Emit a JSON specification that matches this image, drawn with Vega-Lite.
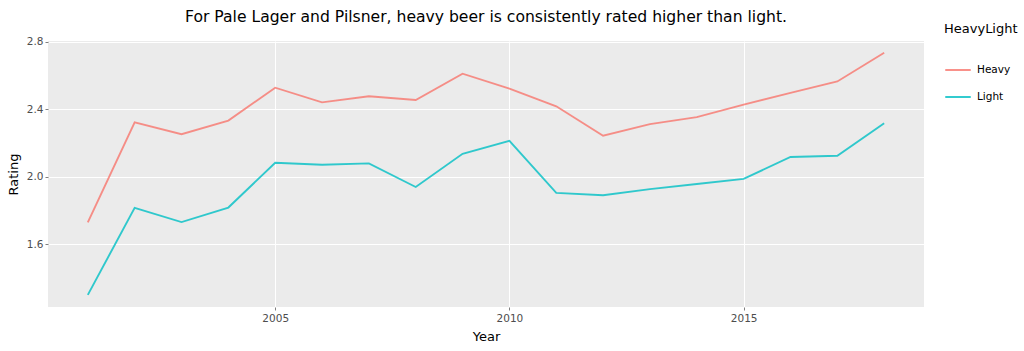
{
  "$schema": "https://vega.github.io/schema/vega-lite/v6.json",
  "width": 876,
  "height": 266,
  "autosize": {"type": "none"},
  "padding": {"left": 48, "top": 41, "right": 100, "bottom": 44},
  "background": "white",
  "title": {
    "text": "For Pale Lager and Pilsner, heavy beer is consistently rated higher than light.",
    "font": "DejaVu Sans",
    "fontSize": 15.6,
    "fontWeight": "normal",
    "color": "#000000",
    "anchor": "middle",
    "frame": "group",
    "offset": -3
  },
  "config": {
    "view": {"fill": "#EBEBEB", "stroke": null},
    "font": "DejaVu Sans",
    "axis": {
      "domain": false,
      "gridColor": "#FFFFFF",
      "gridWidth": 1,
      "tickColor": "#7F7F7F",
      "tickSize": 3,
      "labelColor": "#4D4D4D",
      "labelFont": "DejaVu Sans",
      "labelFontSize": 10.5,
      "titleFont": "DejaVu Sans",
      "titleFontSize": 13,
      "titleFontWeight": "normal",
      "titleColor": "#000000"
    }
  },
  "data": {
    "values": [
      {"Year": 2001, "HeavyLight": "Heavy", "Rating": 1.729},
      {"Year": 2002, "HeavyLight": "Heavy", "Rating": 2.322},
      {"Year": 2003, "HeavyLight": "Heavy", "Rating": 2.252},
      {"Year": 2004, "HeavyLight": "Heavy", "Rating": 2.333},
      {"Year": 2005, "HeavyLight": "Heavy", "Rating": 2.528},
      {"Year": 2006, "HeavyLight": "Heavy", "Rating": 2.441},
      {"Year": 2007, "HeavyLight": "Heavy", "Rating": 2.477},
      {"Year": 2008, "HeavyLight": "Heavy", "Rating": 2.455},
      {"Year": 2009, "HeavyLight": "Heavy", "Rating": 2.611},
      {"Year": 2010, "HeavyLight": "Heavy", "Rating": 2.522},
      {"Year": 2011, "HeavyLight": "Heavy", "Rating": 2.418},
      {"Year": 2012, "HeavyLight": "Heavy", "Rating": 2.243},
      {"Year": 2013, "HeavyLight": "Heavy", "Rating": 2.312},
      {"Year": 2014, "HeavyLight": "Heavy", "Rating": 2.353},
      {"Year": 2015, "HeavyLight": "Heavy", "Rating": 2.428},
      {"Year": 2016, "HeavyLight": "Heavy", "Rating": 2.497},
      {"Year": 2017, "HeavyLight": "Heavy", "Rating": 2.565},
      {"Year": 2018, "HeavyLight": "Heavy", "Rating": 2.735},
      {"Year": 2001, "HeavyLight": "Light", "Rating": 1.299},
      {"Year": 2002, "HeavyLight": "Light", "Rating": 1.815},
      {"Year": 2003, "HeavyLight": "Light", "Rating": 1.731},
      {"Year": 2004, "HeavyLight": "Light", "Rating": 1.817},
      {"Year": 2005, "HeavyLight": "Light", "Rating": 2.083},
      {"Year": 2006, "HeavyLight": "Light", "Rating": 2.071},
      {"Year": 2007, "HeavyLight": "Light", "Rating": 2.079},
      {"Year": 2008, "HeavyLight": "Light", "Rating": 1.939},
      {"Year": 2009, "HeavyLight": "Light", "Rating": 2.136},
      {"Year": 2010, "HeavyLight": "Light", "Rating": 2.213},
      {"Year": 2011, "HeavyLight": "Light", "Rating": 1.904},
      {"Year": 2012, "HeavyLight": "Light", "Rating": 1.890},
      {"Year": 2013, "HeavyLight": "Light", "Rating": 1.926},
      {"Year": 2014, "HeavyLight": "Light", "Rating": 1.957},
      {"Year": 2015, "HeavyLight": "Light", "Rating": 1.987},
      {"Year": 2016, "HeavyLight": "Light", "Rating": 2.117},
      {"Year": 2017, "HeavyLight": "Light", "Rating": 2.124},
      {"Year": 2018, "HeavyLight": "Light", "Rating": 2.317}
    ]
  },
  "mark": {"type": "line", "strokeWidth": 1.9, "strokeOpacity": 0.8, "interpolate": "linear"},
  "encoding": {
    "x": {
      "field": "Year",
      "type": "quantitative",
      "scale": {"domain": [2000.15, 2018.85], "nice": false, "zero": false},
      "axis": {"values": [2005, 2010, 2015], "format": "d", "title": "Year", "titlePadding": 7, "labelPadding": 3}
    },
    "y": {
      "field": "Rating",
      "type": "quantitative",
      "scale": {"domain": [1.227, 2.805], "nice": false, "zero": false},
      "axis": {"values": [1.6, 2.0, 2.4, 2.8], "format": ".1f", "title": "Rating", "titlePadding": 6, "labelPadding": 2}
    },
    "color": {
      "field": "HeavyLight",
      "type": "nominal",
      "scale": {"domain": ["Heavy", "Light"], "range": ["#F8766D", "#00BFC4"]},
      "legend": {
        "title": "HeavyLight",
        "orient": "none",
        "legendX": 896,
        "legendY": -18,
        "titleFont": "DejaVu Sans",
        "titleFontSize": 13,
        "titleFontWeight": "normal",
        "titleColor": "#000000",
        "titlePadding": 20,
        "labelFont": "DejaVu Sans",
        "labelFontSize": 10.5,
        "labelColor": "#000000",
        "labelOffset": 5,
        "symbolType": "stroke",
        "symbolSize": 650,
        "symbolStrokeWidth": 2,
        "symbolOpacity": 0.8,
        "rowPadding": 7
      }
    }
  }
}
